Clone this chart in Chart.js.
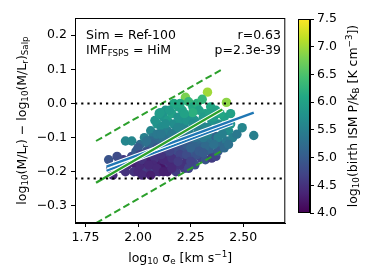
<!DOCTYPE html>
<html>
<head>
<meta charset="utf-8">
<script src="https://cdn.jsdelivr.net/npm/chart.js@4"></script>
<style>
  html, body { margin: 0; padding: 0; background: #fff; }
  #wrap { position: relative; width: 374px; height: 280px; }
  #main { position: absolute; left: 0; top: 0; }
  #cbar { position: absolute; left: 290px; top: 0; }
</style>
</head>
<body>
<div id="wrap">
  <canvas id="main" width="290" height="280"></canvas>
  <canvas id="cbar" width="84" height="280"></canvas>
</div>
<script>
// galaxies: log10 sigma_e, IMF offset, log10 birth ISM pressure
const sigma = [
  1.86, 1.88, 1.87, 1.91, 1.93, 1.92, 1.95, 1.94, 1.90, 1.94,
  1.97, 1.97, 1.99, 1.98, 2.00, 1.99, 2.01, 2.02, 2.03, 2.04, 2.02, 2.04, 2.05, 2.03, 2.05, 1.96, 2.00, 2.01, 2.02, 2.04, 2.00,
  2.06, 2.07, 2.08, 2.07, 2.09, 2.06, 2.08, 2.10, 2.09, 2.10, 2.11, 2.12, 2.13, 2.12, 2.14, 2.13, 2.11, 2.15, 2.14, 2.15,
  2.13, 2.06, 2.10, 2.14, 2.05, 2.08, 2.12, 2.06, 2.09, 2.12, 2.14, 2.08, 2.10, 2.105, 2.07, 2.11, 2.13,
  2.16, 2.17, 2.18, 2.16, 2.17, 2.19, 2.18, 2.20, 2.19, 2.20, 2.16, 2.17, 2.225, 2.21, 2.22, 2.23, 2.24, 2.21, 2.23, 2.22,
  2.25, 2.24, 2.25, 2.18, 2.20, 2.24, 2.19, 2.22, 2.18, 2.21, 2.19, 2.23, 2.15, 2.20, 2.24, 2.17, 2.20, 2.23,
  2.26, 2.27, 2.28, 2.29, 2.27, 2.26, 2.30, 2.28, 2.30, 2.29, 2.33, 2.305, 2.32, 2.31, 2.33, 2.34, 2.32, 2.35, 2.345, 2.35,
  2.27, 2.26, 2.30, 2.32, 2.28, 2.26, 2.31, 2.33, 2.34, 2.28, 2.31, 2.26,
  2.37, 2.36, 2.38, 2.37, 2.39, 2.38, 2.36, 2.42, 2.41, 2.43, 2.42, 2.44, 2.41, 2.45, 2.40, 2.37, 2.38, 2.44, 2.40, 2.43, 2.39,
  2.495, 2.55, 2.47,
  2.02, 2.05, 2.09, 2.12, 2.16, 2.19, 2.25, 2.29, 2.27, 2.23, 2.16, 2.11, 2.07, 2.04, 2.01, 2.19, 2.22, 2.33, 2.36, 2.29,
  2.15, 2.09, 2.13, 2.25, 2.31
];
const offset = [
  -0.165, -0.21, -0.19, -0.17, -0.165, -0.19, -0.18, -0.11, -0.155, -0.20,
  -0.11, -0.155, -0.18, -0.20, -0.165, -0.14, -0.12, -0.15, -0.175, -0.20, -0.19, -0.14, -0.16, -0.10, -0.12, -0.165, -0.20, -0.18, -0.21, -0.17, -0.13,
  -0.08, -0.10, -0.13, -0.15, -0.17, -0.185, -0.20, -0.14, -0.06, -0.11, -0.07, -0.04, -0.09, -0.12, -0.15, -0.18, -0.19, -0.17, -0.05, -0.10,
  -0.02, -0.21, -0.20, -0.20, -0.14, -0.16, -0.165, -0.11, -0.09, -0.10, -0.08, -0.05, -0.03, -0.027, -0.18, -0.15, -0.13,
  -0.03, -0.06, -0.08, -0.12, -0.14, -0.16, -0.18, -0.12, -0.01, -0.05, -0.16, 0.00, 0.018, -0.02, -0.07, -0.10, -0.13, -0.15, -0.17, -0.19,
  -0.04, -0.08, -0.15, -0.20, -0.18, -0.19, -0.14, -0.13, -0.10, -0.09, -0.04, -0.05, -0.02, 0.00, 0.005, -0.11, -0.15, -0.15,
  -0.01, -0.05, -0.09, -0.12, -0.14, -0.17, -0.16, 0.00, -0.06, -0.02, 0.033, 0.012, -0.03, -0.08, -0.11, -0.14, -0.165, -0.05, -0.01, -0.16,
  -0.18, -0.12, -0.13, -0.125, -0.07, -0.06, -0.04, -0.07, -0.03, -0.15, -0.10, -0.027,
  -0.155, -0.10, -0.06, -0.02, -0.12, -0.14, -0.04, 0.003, -0.04, -0.08, -0.11, -0.06, -0.13, -0.10, -0.07, -0.097, -0.10, -0.03, -0.09, -0.12, -0.03,
  -0.071, -0.094, -0.09,
  -0.165, -0.18, -0.19, -0.20, -0.19, -0.17, -0.17, -0.14, -0.10, -0.12, -0.09, -0.09, -0.12, -0.11, -0.15, -0.07, -0.03, -0.09, -0.12, -0.08,
  -0.14, -0.13, -0.06, -0.13, -0.145
];
const pressure = [
  4.9, 4.4, 4.7, 4.8, 4.6, 4.5, 4.4, 5.6, 4.8, 4.5,
  5.6, 4.8, 4.3, 4.5, 4.5, 5.0, 5.2, 4.9, 4.4, 4.5, 4.6, 4.9, 4.3, 5.5, 5.3, 4.6, 4.4, 4.4, 4.4, 4.3, 5.0,
  5.6, 5.4, 5.0, 4.7, 4.3, 4.5, 4.7, 4.6, 5.8, 5.2, 5.7, 5.8, 5.5, 5.1, 4.6, 4.5, 4.2, 4.4, 5.9, 5.3,
  5.8, 4.3, 4.4, 4.3, 4.8, 4.5, 4.4, 5.2, 5.4, 5.3, 5.5, 5.8, 5.9, 5.9, 4.4, 4.5, 4.8,
  6.0, 5.7, 5.6, 5.0, 4.8, 4.5, 4.4, 5.0, 6.0, 5.8, 4.5, 6.1, 6.8, 6.0, 5.6, 5.3, 5.0, 4.7, 4.5, 4.6,
  5.9, 5.5, 4.9, 4.6, 4.5, 4.7, 4.8, 4.9, 5.3, 5.4, 5.8, 5.8, 5.9, 6.1, 6.3, 5.1, 4.7, 4.8,
  6.1, 5.8, 5.5, 5.2, 5.0, 4.8, 4.7, 6.2, 5.6, 6.0, 7.0, 6.3, 6.0, 5.6, 5.3, 5.1, 4.9, 5.8, 6.1, 4.6,
  4.8, 5.1, 5.1, 5.2, 5.6, 5.7, 5.9, 5.6, 6.0, 4.9, 5.4, 6.2,
  4.7, 5.4, 5.7, 6.0, 5.2, 5.0, 5.9, 6.9, 6.0, 5.7, 5.4, 5.8, 5.2, 5.5, 5.6, 5.1, 5.5, 6.0, 5.5, 5.3, 6.1,
  5.6, 5.5, 5.4,
  4.5, 4.4, 4.4, 4.3, 4.4, 4.6, 4.7, 5.0, 5.3, 5.0, 5.4, 5.4, 5.1, 5.3, 4.7, 5.6, 6.0, 5.5, 5.3, 5.5,
  4.7, 4.9, 5.7, 5.1, 5.0
];

// fit lines
const simFitX = [1.80, 2.40];
const simFitY = [-0.232, -0.018];
const simUpperY = [-0.11, 0.10];
const simLowerY = [-0.35, -0.138];
const obsFitX = [1.85, 2.55];
const obsFitY = [-0.185, -0.027];
const obs2FitX = [1.85, 2.45];
const obs2FitY = [-0.197, -0.058];
const refLineX = [1.7, 2.7];
const refLevels = [0.0, -0.22];

const xTicks = [1.75, 2.00, 2.25, 2.50];
const yTicks = [-0.3, -0.2, -0.1, 0.0, 0.1, 0.2];
const cbTicks = [4.0, 4.5, 5.0, 5.5, 6.0, 6.5, 7.0, 7.5];
const cbMin = 4.0, cbMax = 7.5;

const viridisStops = ['#440154', '#482475', '#414487', '#355f8d', '#2a788e', '#21918c',
                      '#22a884', '#44bf70', '#7ad151', '#bddf26', '#fde725'];

function hexRgb(h) {
  return [parseInt(h.slice(1, 3), 16), parseInt(h.slice(3, 5), 16), parseInt(h.slice(5, 7), 16)];
}
function viridis(t) {
  t = Math.max(0, Math.min(1, t));
  const n = viridisStops.length - 1;
  const i = Math.min(n - 1, Math.floor(t * n));
  const f = t * n - i;
  const a = hexRgb(viridisStops[i]), b = hexRgb(viridisStops[i + 1]);
  const c = a.map((v, k) => Math.round(v + (b[k] - v) * f));
  return `rgb(${c[0]},${c[1]},${c[2]})`;
}

const FONT = 'DejaVu Sans';
const FS = 12.5;
Chart.defaults.font.family = FONT;
Chart.defaults.font.size = FS;
Chart.defaults.color = '#000';

// text with sub/superscripts, segs = [[text, 'sub'|'sup'|0], ...]
function drawRich(ctx, segs, x, y, align, rotate) {
  const small = FS * 0.7;
  ctx.save();
  ctx.translate(x, y);
  if (rotate) ctx.rotate(rotate);
  ctx.fillStyle = '#000';
  ctx.textBaseline = 'alphabetic';
  ctx.textAlign = 'left';
  let w = 0;
  segs.forEach(([t, k]) => { ctx.font = (k ? small : FS) + 'px "' + FONT + '"'; w += ctx.measureText(t).width; });
  let cx = align === 'left' ? 0 : align === 'right' ? -w : -w / 2;
  const base = FS * 0.36;
  segs.forEach(([t, k]) => {
    ctx.font = (k ? small : FS) + 'px "' + FONT + '"';
    const dy = k === 'sub' ? FS * 0.22 : k === 'sup' ? -FS * 0.4 : 0;
    ctx.fillText(t, cx, base + dy);
    cx += ctx.measureText(t).width;
  });
  ctx.restore();
}

const pts = (xs, ys) => xs.map((x, i) => ({ x: x, y: ys[i] }));

function lineSet(xs, ys, color, width, dash, order) {
  return {
    type: 'line', data: pts(xs, ys), borderColor: color, borderWidth: width,
    borderDash: dash || [], pointRadius: 0, fill: false, tension: 0, order: order
  };
}

const framePlugin = {
  id: 'frame',
  afterDraw(chart) {
    const { ctx, chartArea: a } = chart;
    ctx.save();
    ctx.strokeStyle = '#000';
    ctx.lineWidth = 1;
    ctx.strokeRect(a.left + 0.5, a.top + 0.5, a.right - a.left - 1, a.bottom - a.top - 1);
    ctx.restore();
    const c = chart.ctx;
    drawRich(c, [['Sim = Ref-100', 0]], 86, 34, 'left');
    drawRich(c, [['IMF', 0], ['FSPS', 'sub'], [' = HiM', 0]], 86, 49, 'left');
    drawRich(c, [['r=0.63', 0]], 281, 34, 'right');
    drawRich(c, [['p=2.3e-39', 0]], 281, 49, 'right');
    drawRich(c, [['log', 0], ['10', 'sub'], [' \u03c3', 0], ['e', 'sub'], [' [km s', 0], ['\u22121', 'sup'], [']', 0]],
      (a.left + a.right) / 2, 257, 'center');
    drawRich(c, [['log', 0], ['10', 'sub'], ['(M/L', 0], ['r', 'sub'], [') \u2212 log', 0], ['10', 'sub'],
      ['(M/L', 0], ['r', 'sub'], [')', 0], ['Salp', 'sub']],
      21, (a.top + a.bottom) / 2, 'center', -Math.PI / 2);
  }
};

const tickFmt = d => v => (v < 0 ? '\u2212' : '') + Math.abs(v).toFixed(d);

new Chart(document.getElementById('main'), {
  type: 'scatter',
  data: {
    datasets: [
      lineSet(refLineX, [refLevels[0], refLevels[0]], '#000', 2, [2.2, 4], 1),
      lineSet(refLineX, [refLevels[1], refLevels[1]], '#000', 2, [2.2, 4], 1),
      lineSet(simFitX, simUpperY, '#2ca02c', 2, [7, 3.5], 1),
      lineSet(simFitX, simLowerY, '#2ca02c', 2, [7, 3.5], 1),
      lineSet(simFitX, simFitY, '#2ca02c', 2.4, null, 2),
      lineSet(simFitX, simFitY, '#ffffff', 4.4, null, 3),
      lineSet(obsFitX, obsFitY, '#1f77b4', 2.4, null, 4),
      lineSet(obsFitX, obsFitY, '#ffffff', 4.4, null, 5),
      lineSet(obs2FitX, obs2FitY, '#1f77b4', 2.2, null, 6),
      lineSet(obs2FitX, obs2FitY, '#ffffff', 4.2, null, 7),
      {
        type: 'scatter',
        data: pts(sigma, offset),
        backgroundColor: pressure.map(c => viridis((c - cbMin) / (cbMax - cbMin))),
        borderWidth: 0,
        pointRadius: 4.7,
        order: 10
      }
    ]
  },
  options: {
    responsive: false,
    animation: false,
    layout: { padding: { left: 0, top: 18, right: 4, bottom: 0 } },
    plugins: { legend: { display: false }, tooltip: { enabled: false } },
    scales: {
      x: {
        type: 'linear', min: 1.7, max: 2.7,
        afterBuildTicks: s => { s.ticks = xTicks.map(v => ({ value: v })); },
        afterFit: s => { s.height = 57; },
        ticks: { callback: tickFmt(2), padding: 3, maxRotation: 0, autoSkip: false, color: '#000' },
        grid: { drawOnChartArea: false, tickLength: 4, color: '#000' },
        border: { color: '#000' }
      },
      y: {
        type: 'linear', min: -0.35, max: 0.25,
        afterBuildTicks: s => { s.ticks = yTicks.map(v => ({ value: v })); },
        afterFit: s => { s.width = 75; },
        ticks: { callback: tickFmt(1), padding: 4, autoSkip: false, color: '#000' },
        grid: { drawOnChartArea: false, tickLength: 4, color: '#000' },
        border: { color: '#000' }
      }
    }
  },
  plugins: [framePlugin]
});

// colorbar
const cbPlugin = {
  id: 'cbframe',
  afterDraw(chart) {
    const { ctx, chartArea: a } = chart;
    ctx.save();
    ctx.strokeStyle = '#000';
    ctx.lineWidth = 1;
    ctx.strokeRect(a.left + 0.5, a.top + 0.5, a.right - a.left - 1, a.bottom - a.top - 1);
    ctx.restore();
    drawRich(ctx, [['log', 0], ['10', 'sub'], ['(birth ISM P/k', 0], ['B', 'sub'], [' [K cm', 0], ['\u22123', 'sup'], ['])', 0]],
      62, (a.top + a.bottom) / 2, 'center', -Math.PI / 2);
  }
};

new Chart(document.getElementById('cbar'), {
  type: 'bar',
  data: {
    labels: [''],
    datasets: [{
      data: [[cbMin, cbMax]],
      backgroundColor: context => {
        const { chart } = context;
        const { ctx, chartArea, scales } = chart;
        if (!chartArea) return '#21918c';
        const g = ctx.createLinearGradient(0, scales.y.getPixelForValue(cbMin), 0, scales.y.getPixelForValue(cbMax));
        viridisStops.forEach((c, i) => g.addColorStop(i / (viridisStops.length - 1), c));
        return g;
      },
      borderWidth: 0,
      barPercentage: 1,
      categoryPercentage: 1
    }]
  },
  options: {
    responsive: false,
    animation: false,
    layout: { padding: { left: 8, top: 19, right: 0, bottom: 67 } },
    plugins: { legend: { display: false }, tooltip: { enabled: false } },
    scales: {
      x: { display: false },
      y: {
        position: 'right', min: cbMin, max: cbMax,
        afterBuildTicks: s => { s.ticks = cbTicks.map(v => ({ value: v })); },
        afterFit: s => { s.width = 64; },
        ticks: { callback: tickFmt(1), padding: 3, autoSkip: false, color: '#000' },
        grid: { drawOnChartArea: false, tickLength: 4, color: '#000' },
        border: { color: '#000' }
      }
    }
  },
  plugins: [cbPlugin]
});
</script>
</body>
</html>
